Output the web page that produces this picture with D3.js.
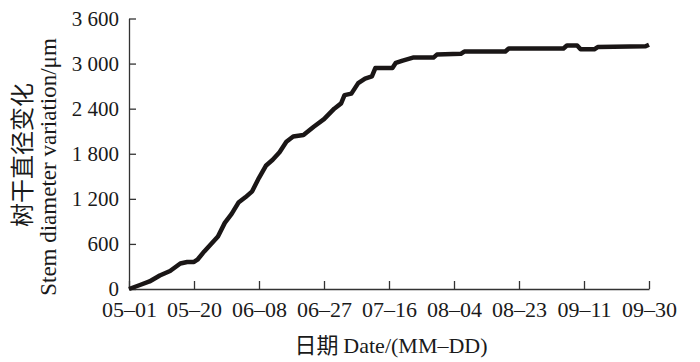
<!DOCTYPE html>
<html>
<head>
<meta charset="utf-8">
<script src="https://cdn.jsdelivr.net/npm/d3@7"></script>
<style>
  body { margin: 0; background: #fff; }
</style>
</head>
<body>
<svg id="chart"></svg>
<script>
// dates (MM-DD) and stem diameter variation (μm)
const dates = ["05-01","05-04","05-07","05-10","05-13","05-16","05-18","05-20","05-21","05-23",
  "05-25","05-27","05-29","05-31","06-02","06-04","06-06","06-08","06-10","06-12",
  "06-14","06-16","06-18","06-21","06-24","06-27","06-30","07-02","07-03","07-05",
  "07-07","07-09","07-11","07-12","07-17","07-18","07-20","07-23","07-29","07-30",
  "08-06","08-07","08-19","08-20","09-05","09-06","09-09","09-10","09-14","09-15",
  "09-29","09-30"];
const values = [0,50,100,180,240,340,360,360,390,500,
  600,700,880,1000,1150,1220,1300,1480,1640,1720,
  1820,1960,2030,2050,2160,2260,2400,2470,2580,2600,
  2740,2800,2830,2940,2940,3010,3040,3080,3080,3120,
  3130,3160,3160,3200,3200,3240,3240,3190,3190,3220,
  3230,3250];
const xTicks = ["05-01","05-20","06-08","06-27","07-16","08-04","08-23","09-11","09-30"];
const yTicks = [0, 600, 1200, 1800, 2400, 3000, 3600];
const yTickLabels = ["0", "600", "1 200", "1 800", "2 400", "3 000", "3 600"];

const serif = '"Liberation Serif", "Times New Roman", "DejaVu Serif", serif';
const cjk = '"Noto Sans CJK SC", sans-serif';
const ink = "#1a1a1a";

const width = 700, height = 362;
const margin = { top: 18.5, right: 51, bottom: 73, left: 129 };
const parse = s => d3.timeParse("%Y-%m-%d")("2014-" + s);

const svg = d3.select("#chart").attr("width", width).attr("height", height);

const x = d3.scaleTime()
  .domain([parse(xTicks[0]), parse(xTicks[xTicks.length - 1])])
  .range([margin.left, width - margin.right]);

const y = d3.scaleLinear()
  .domain([0, 3600])
  .range([height - margin.bottom, margin.top]);

// x axis, ticks pointing inward
const xAxis = svg.append("g")
  .attr("transform", "translate(0," + (height - margin.bottom) + ")")
  .call(d3.axisBottom(x)
    .tickValues(xTicks.map(parse))
    .tickSizeInner(-8).tickSizeOuter(0)
    .tickFormat(d3.timeFormat("%m\u2013%d")));
xAxis.selectAll("text")
  .attr("y", 28).attr("dy", 0)
  .style("font-family", serif).style("font-size", "22px").style("fill", ink);

// y axis, ticks pointing inward
const yAxis = svg.append("g")
  .attr("transform", "translate(" + margin.left + ",0)")
  .call(d3.axisLeft(y)
    .tickValues(yTicks)
    .tickSizeInner(-7).tickSizeOuter(0)
    .tickFormat((d, i) => yTickLabels[i]));
yAxis.selectAll("text")
  .attr("x", -10).attr("dy", "0.33em")
  .style("font-family", serif).style("font-size", "21px").style("fill", ink);

svg.selectAll(".domain, .tick line").attr("stroke", "#333").attr("stroke-width", 1.3);

// the series
const line = d3.line()
  .x((d, i) => x(parse(dates[i])))
  .y(d => y(d));

svg.append("path")
  .datum(values)
  .attr("fill", "none")
  .attr("stroke", "#1a1616")
  .attr("stroke-width", 4.5)
  .attr("stroke-linejoin", "round")
  .attr("d", line);

// axis titles
svg.append("text")
  .attr("transform", "translate(31,155) rotate(-90)")
  .attr("text-anchor", "middle")
  .style("font-family", cjk).style("font-size", "24px").style("fill", ink)
  .text("树干直径变化");

svg.append("text")
  .attr("transform", "translate(56,167) rotate(-90)")
  .attr("text-anchor", "middle")
  .style("font-family", serif).style("font-size", "23px").style("fill", ink)
  .text("Stem diameter variation/μm");

const xt = svg.append("text")
  .attr("x", 391)
  .attr("y", 353)
  .attr("text-anchor", "middle")
  .style("font-family", serif).style("font-size", "22px").style("fill", ink);
xt.append("tspan").style("font-family", cjk).text("日期 ");
xt.append("tspan").text("Date/(MM\u2013DD)");
</script>
</body>
</html>
